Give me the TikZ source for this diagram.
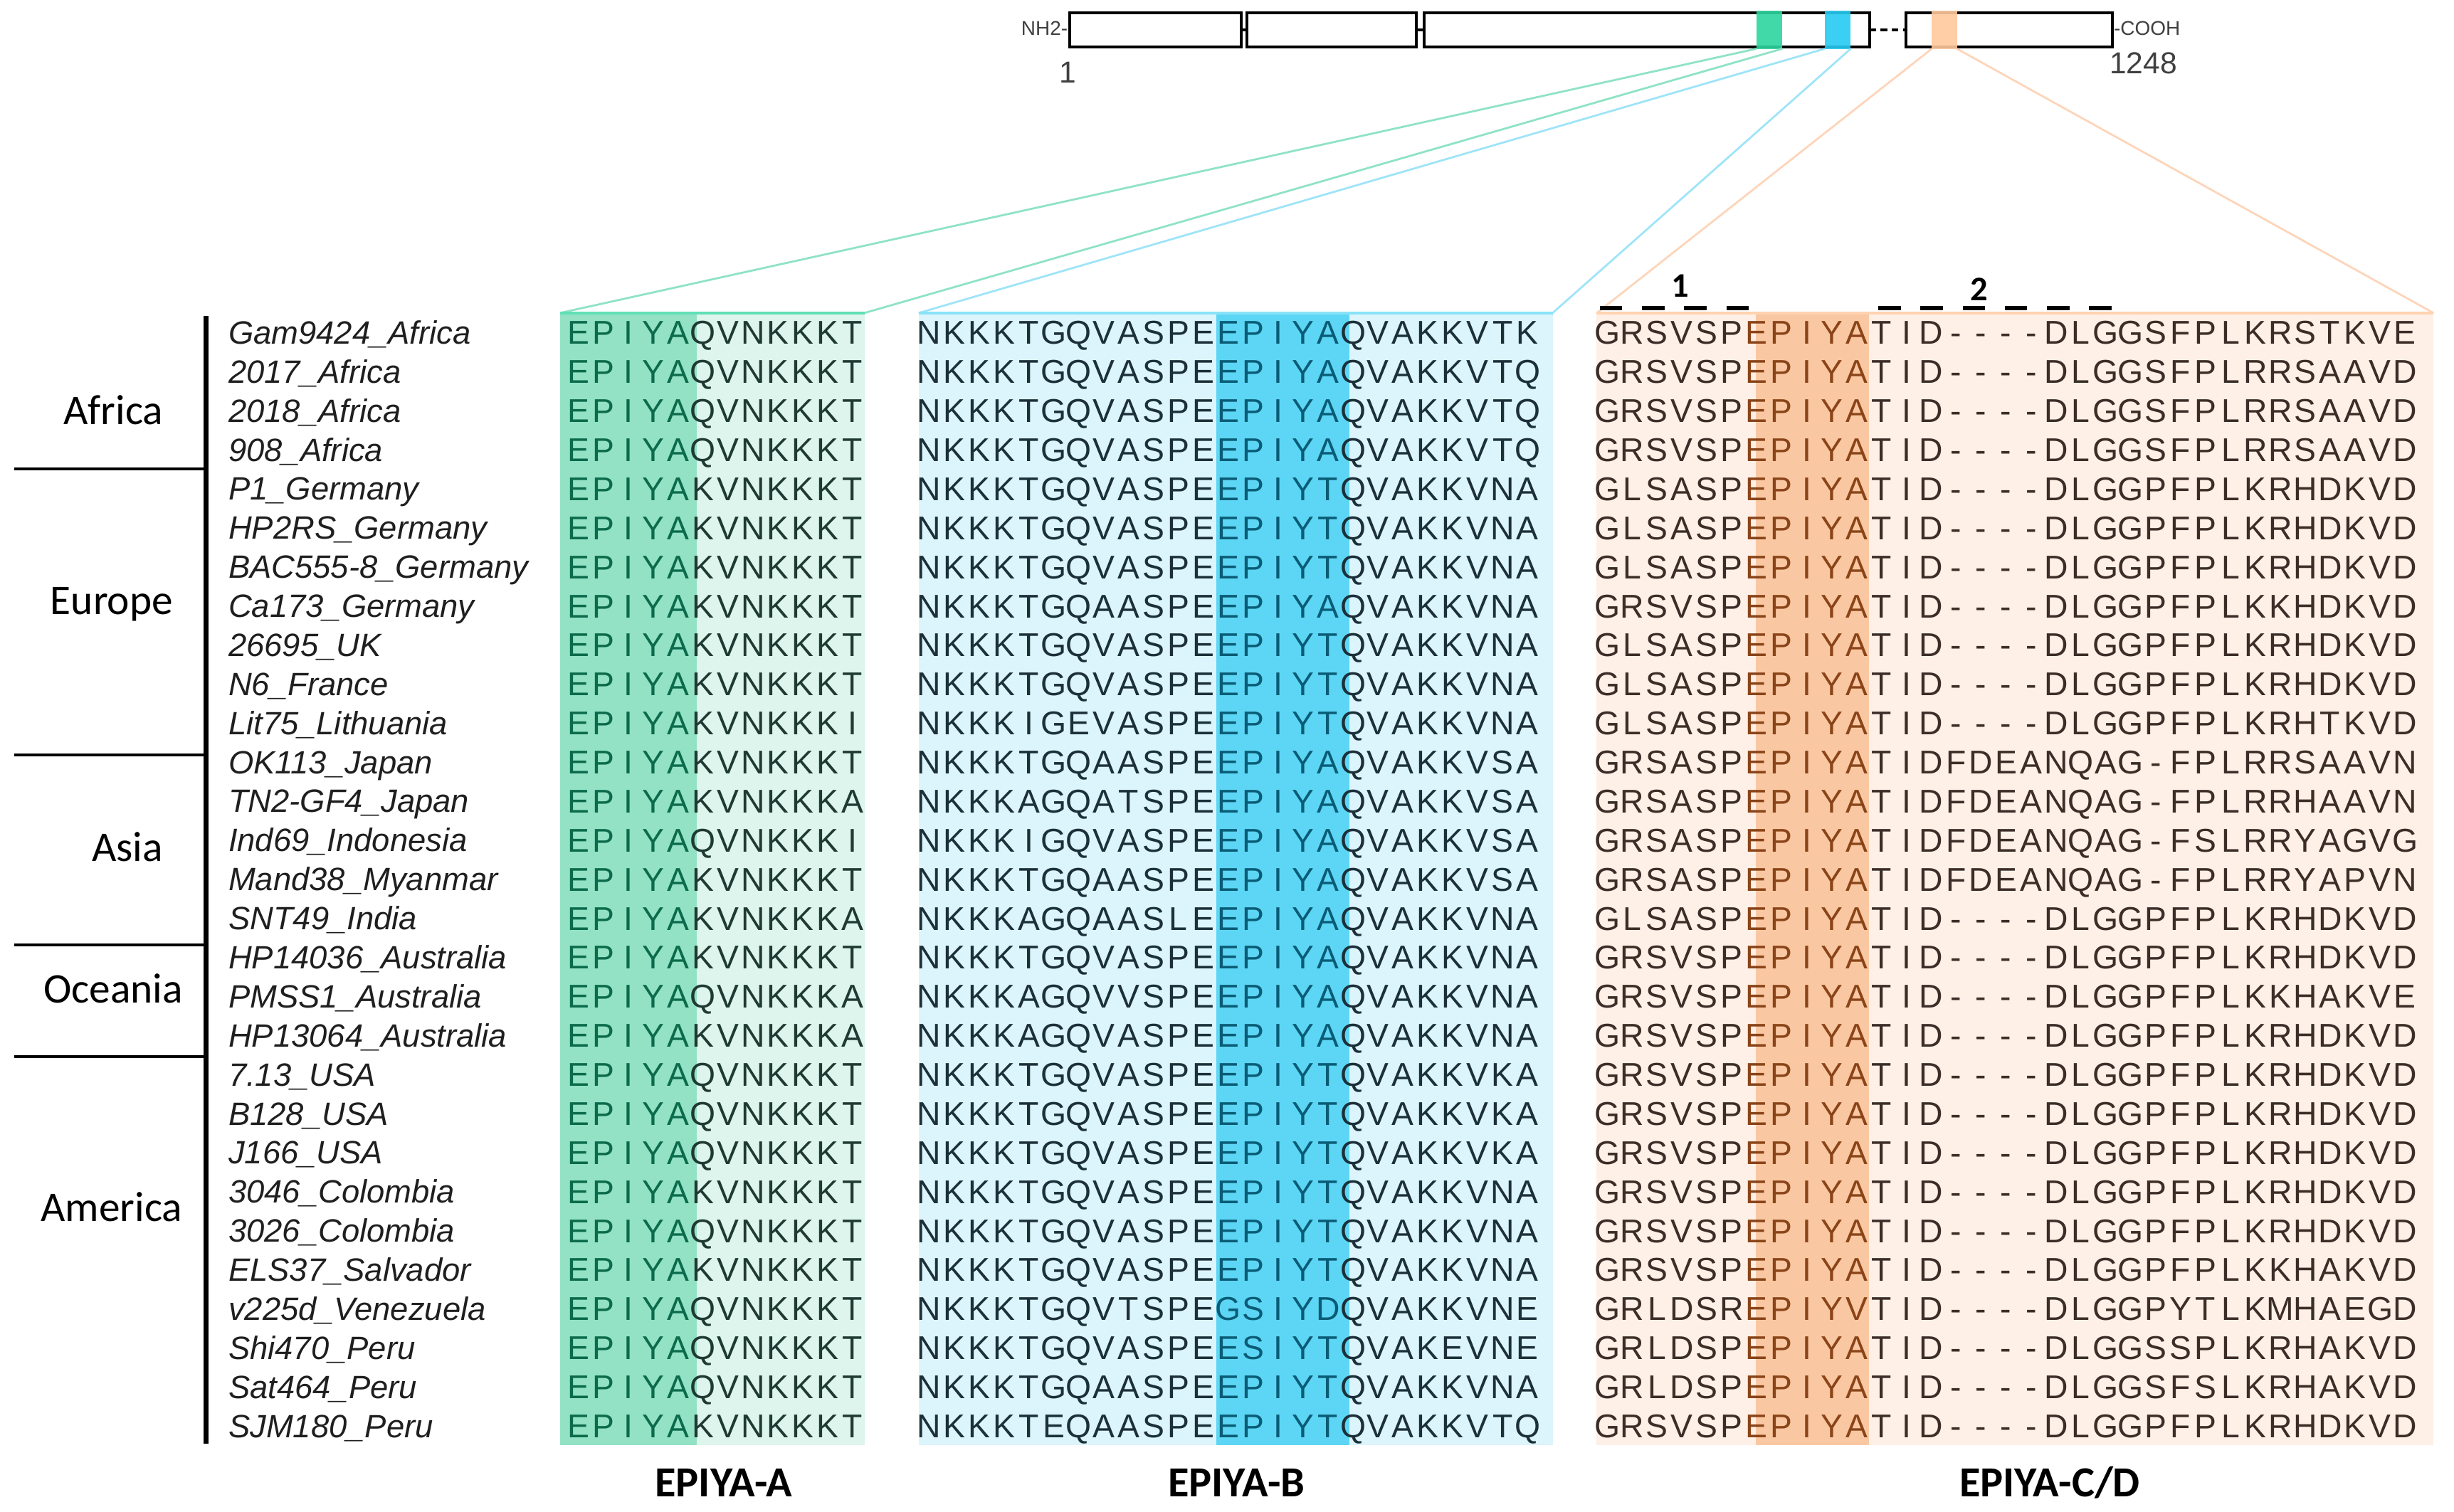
\documentclass[tikz,border=0pt]{standalone}
\usepackage{fontspec}
\setmainfont{Liberation Sans}
\newfontfamily\calib{Carlito}
\usepackage{xcolor}
\usetikzlibrary{calc}

% colours of the three EPIYA segments
\definecolor{barA}{HTML}{2DD59F}
\definecolor{barB}{HTML}{26CBF2}
\definecolor{barC}{HTML}{FFC89C}
\definecolor{fanA}{HTML}{8FE3C4}
\definecolor{fanB}{HTML}{9FE4F8}
\definecolor{fanC}{HTML}{FDD5BA}
\definecolor{Adark}{HTML}{93E2C5}
\definecolor{Alight}{HTML}{DDF5EC}
\definecolor{Bdark}{HTML}{5CD6F4}
\definecolor{Blight}{HTML}{DCF4FC}
\definecolor{Cdark}{HTML}{F9C8A2}
\definecolor{Clight}{HTML}{FEF0E6}
\definecolor{Atxt}{HTML}{0B6B4C}
\definecolor{Btxt}{HTML}{0A5C76}
\definecolor{Ctxt}{HTML}{8A4418}
\definecolor{Aseq}{HTML}{1F3A33}
\definecolor{Bseq}{HTML}{1C3039}
\definecolor{Cseq}{HTML}{3C2D28}

% one residue per fixed cell
\newlength\cw
\setlength\cw{11.27pt}
\def\seqloop#1{\ifx#1\relax\else\makebox[\cw][c]{#1}\expandafter\seqloop\fi}
\newcommand\seqtext[1]{\expandafter\seqloop#1\relax}
\newcommand\seqsize{\fontsize{14.9pt}{16pt}\selectfont}
\newcommand\namesize{\itshape\fontsize{14.6pt}{16pt}\selectfont}
\newcommand\regsize{\calib\fontsize{19.1pt}{21pt}\selectfont}
\newcommand\motsize{\calib\bfseries\fontsize{19.4pt}{21pt}\selectfont}

\begin{document}
\begin{tikzpicture}[x=0.025cm, y=-0.025cm,
    box/.style={draw=black, line width=1.3pt},
    fan/.style={line width=0.9pt},
    seqrow/.style={inner sep=0pt, anchor=base west, font=\seqsize},
    strain/.style={inner sep=0pt, anchor=base west, font=\namesize, color=black!88},
    region/.style={inner sep=0pt, anchor=base, font=\regsize},
    motif/.style={inner sep=0pt, anchor=base, font=\motsize},
    small/.style={inner sep=0pt, color=black!75}]

    \useasboundingbox (0,0) rectangle (1560,961);

    % coordinates
    \coordinate (gA1) at (1116.5,31);
    \coordinate (gA2) at (1133,31);
    \coordinate (cB1) at (1160,31);
    \coordinate (cB2) at (1176.5,31);
    \coordinate (oC1) at (1228,31);
    \coordinate (oC2) at (1244,31);
    \coordinate (A1) at (356,199);
    \coordinate (A2) at (549.5,199);
    \coordinate (B1) at (584,199);
    \coordinate (B2) at (987,199);
    \coordinate (C1) at (1015,199);
    \coordinate (C2) at (1547,199);

    % protein bar
    \draw[box] (680,8) rectangle (789,30);
    \draw[box] (792.5,8) rectangle (900.5,30);
    \draw[box] (905.5,8) rectangle (1188.5,30);
    \draw[box] (1211.5,8) rectangle (1343,30);
    \draw[line width=1.2pt] (789,19) -- (792.5,19);
    \draw[line width=1.2pt] (900.5,19) -- (905.5,19);
    \draw[line width=1.2pt, dash pattern=on 3pt off 2pt] (1188.5,19) -- (1211.5,19);
    \fill[barA, opacity=0.9] (1116.5,7) rectangle (1133,31);
    \fill[barB, opacity=0.9] (1160,7) rectangle (1176.5,31);
    \fill[barC, opacity=0.9] (1228,7) rectangle (1244,31);
    \node[small, anchor=east, font=\fontsize{9pt}{10pt}\selectfont] (nterm) at (679,18) {NH2-};
    \node[small, anchor=west, font=\fontsize{9pt}{10pt}\selectfont] (cterm) at (1343.5,18) {-COOH};
    \node[small, font=\fontsize{13.7pt}{15pt}\selectfont] (first) at (679,46) {1};
    \node[small, font=\fontsize{13.7pt}{15pt}\selectfont] (last) at (1362.5,40.4) {1248};

    % segment backgrounds
    \fill[Alight] (A1) rectangle (549.5,919);
    \fill[Adark] (A1) rectangle (443,919);
    \fill[Blight] (B1) rectangle (987,919);
    \fill[Bdark] (773,199) rectangle (858,919);
    \fill[Clight] (C1) rectangle (1547,919);
    \fill[Cdark] (1116,199) rectangle (1188,919);

    % zoom lines
    \draw[fan, fanA] (gA1) -- (A1);
    \draw[fan, fanA] (gA2) -- (A2);
    \draw[fan, fanB] (cB1) -- (B1);
    \draw[fan, fanB] (cB2) -- (B2);
    \draw[fan, fanC] (oC1) -- (C1);
    \draw[fan, fanC] (oC2) -- (C2);
    \draw[line width=1.1pt, barA!75] (A1) -- (A2);
    \draw[line width=1.1pt, barB!55] (B1) -- (B2);
    \draw[line width=1.1pt, barC!80] (C1) -- (C2);

    % dashed marks over EPIYA-C/D
    \draw[line width=2.1pt, dash pattern=on 10.17pt off 8.89pt] (1017,196) -- (1111.5,196);
    \draw[line width=2.1pt, dash pattern=on 10.17pt off 8.89pt] (1194,196) -- (1342.5,196);
    \node[inner sep=0pt, anchor=base, font=\calib\bfseries\fontsize{15.6pt}{17pt}\selectfont] (mark1) at (1068,189) {1};
    \node[inner sep=0pt, anchor=base, font=\calib\bfseries\fontsize{15.6pt}{17pt}\selectfont] (mark2) at (1258,191) {2};

    % regions
    \draw[line width=2.5pt] (131,201) -- (131,918);
    \foreach \yy in {298,480,601,672}
        \draw[line width=1.3pt] (9,\yy) -- (131,\yy);
    \node[region] (africa) at (72,269.7) {Africa};
    \node[region] (europe) at (71,390.7) {Europe};
    \node[region] (asia) at (81,547.7) {Asia};
    \node[region] (oceania) at (72,637.7) {Oceania};
    \node[region] (america) at (71,776.7) {America};

    % strains and sequences
    \foreach \strain/\mA/\rA/\pB/\mB/\rB/\pC/\mC/\rC [count=\i] in {
        Gam9424\_Africa/EPIYA/QVNKKKT/NKKKTGQVASPE/EPIYA/QVAKKVTK/GRSVSP/EPIYA/TID----DLGGSFPLKRSTKVE,
        2017\_Africa/EPIYA/QVNKKKT/NKKKTGQVASPE/EPIYA/QVAKKVTQ/GRSVSP/EPIYA/TID----DLGGSFPLRRSAAVD,
        2018\_Africa/EPIYA/QVNKKKT/NKKKTGQVASPE/EPIYA/QVAKKVTQ/GRSVSP/EPIYA/TID----DLGGSFPLRRSAAVD,
        908\_Africa/EPIYA/QVNKKKT/NKKKTGQVASPE/EPIYA/QVAKKVTQ/GRSVSP/EPIYA/TID----DLGGSFPLRRSAAVD,
        P1\_Germany/EPIYA/KVNKKKT/NKKKTGQVASPE/EPIYT/QVAKKVNA/GLSASP/EPIYA/TID----DLGGPFPLKRHDKVD,
        HP2RS\_Germany/EPIYA/KVNKKKT/NKKKTGQVASPE/EPIYT/QVAKKVNA/GLSASP/EPIYA/TID----DLGGPFPLKRHDKVD,
        BAC555-8\_Germany/EPIYA/KVNKKKT/NKKKTGQVASPE/EPIYT/QVAKKVNA/GLSASP/EPIYA/TID----DLGGPFPLKRHDKVD,
        Ca173\_Germany/EPIYA/KVNKKKT/NKKKTGQAASPE/EPIYA/QVAKKVNA/GRSVSP/EPIYA/TID----DLGGPFPLKKHDKVD,
        26695\_UK/EPIYA/KVNKKKT/NKKKTGQVASPE/EPIYT/QVAKKVNA/GLSASP/EPIYA/TID----DLGGPFPLKRHDKVD,
        N6\_France/EPIYA/KVNKKKT/NKKKTGQVASPE/EPIYT/QVAKKVNA/GLSASP/EPIYA/TID----DLGGPFPLKRHDKVD,
        Lit75\_Lithuania/EPIYA/KVNKKKI/NKKKIGEVASPE/EPIYT/QVAKKVNA/GLSASP/EPIYA/TID----DLGGPFPLKRHTKVD,
        OK113\_Japan/EPIYA/KVNKKKT/NKKKTGQAASPE/EPIYA/QVAKKVSA/GRSASP/EPIYA/TIDFDEANQAG-FPLRRSAAVN,
        TN2-GF4\_Japan/EPIYA/KVNKKKA/NKKKAGQATSPE/EPIYA/QVAKKVSA/GRSASP/EPIYA/TIDFDEANQAG-FPLRRHAAVN,
        Ind69\_Indonesia/EPIYA/QVNKKKI/NKKKIGQVASPE/EPIYA/QVAKKVSA/GRSASP/EPIYA/TIDFDEANQAG-FSLRRYAGVG,
        Mand38\_Myanmar/EPIYA/KVNKKKT/NKKKTGQAASPE/EPIYA/QVAKKVSA/GRSASP/EPIYA/TIDFDEANQAG-FPLRRYAPVN,
        SNT49\_India/EPIYA/KVNKKKA/NKKKAGQAASLE/EPIYA/QVAKKVNA/GLSASP/EPIYA/TID----DLGGPFPLKRHDKVD,
        HP14036\_Australia/EPIYA/KVNKKKT/NKKKTGQVASPE/EPIYA/QVAKKVNA/GRSVSP/EPIYA/TID----DLGGPFPLKRHDKVD,
        PMSS1\_Australia/EPIYA/QVNKKKA/NKKKAGQVVSPE/EPIYA/QVAKKVNA/GRSVSP/EPIYA/TID----DLGGPFPLKKHAKVE,
        HP13064\_Australia/EPIYA/KVNKKKA/NKKKAGQVASPE/EPIYA/QVAKKVNA/GRSVSP/EPIYA/TID----DLGGPFPLKRHDKVD,
        7.13\_USA/EPIYA/QVNKKKT/NKKKTGQVASPE/EPIYT/QVAKKVKA/GRSVSP/EPIYA/TID----DLGGPFPLKRHDKVD,
        B128\_USA/EPIYA/QVNKKKT/NKKKTGQVASPE/EPIYT/QVAKKVKA/GRSVSP/EPIYA/TID----DLGGPFPLKRHDKVD,
        J166\_USA/EPIYA/QVNKKKT/NKKKTGQVASPE/EPIYT/QVAKKVKA/GRSVSP/EPIYA/TID----DLGGPFPLKRHDKVD,
        3046\_Colombia/EPIYA/KVNKKKT/NKKKTGQVASPE/EPIYT/QVAKKVNA/GRSVSP/EPIYA/TID----DLGGPFPLKRHDKVD,
        3026\_Colombia/EPIYA/QVNKKKT/NKKKTGQVASPE/EPIYT/QVAKKVNA/GRSVSP/EPIYA/TID----DLGGPFPLKRHDKVD,
        ELS37\_Salvador/EPIYA/KVNKKKT/NKKKTGQVASPE/EPIYT/QVAKKVNA/GRSVSP/EPIYA/TID----DLGGPFPLKKHAKVD,
        v225d\_Venezuela/EPIYA/QVNKKKT/NKKKTGQVTSPE/GSIYD/QVAKKVNE/GRLDSR/EPIYV/TID----DLGGPYTLKMHAEGD,
        Shi470\_Peru/EPIYA/QVNKKKT/NKKKTGQVASPE/ESIYT/QVAKEVNE/GRLDSP/EPIYA/TID----DLGGSSPLKRHAKVD,
        Sat464\_Peru/EPIYA/QVNKKKT/NKKKTGQAASPE/EPIYT/QVAKKVNA/GRLDSP/EPIYA/TID----DLGGSFSLKRHAKVD,
        SJM180\_Peru/EPIYA/KVNKKKT/NKKKTEQAASPE/EPIYT/QVAKKVTQ/GRSVSP/EPIYA/TID----DLGGPFPLKRHDKVD}{
        \pgfmathsetmacro\yy{211.4+24.83*(\i-1)}
        \node[strain] (s\i) at (145,\yy+7.3) {\strain};
        \node[seqrow] (a\i) at (359.5,\yy+7.5) {\color{Atxt}\seqtext\mA\color{Aseq}\seqtext\rA};
        \node[seqrow] (b\i) at (582.5,\yy+7.5) {\color{Bseq}\seqtext\pB\color{Btxt}\seqtext\mB\color{Bseq}\seqtext\rB};
        \node[seqrow] (c\i) at (1013.5,\yy+7.5) {\color{Cseq}\seqtext\pC\color{Ctxt}\seqtext\mC\color{Cseq}\seqtext\rC};
    }

    % segment names
    \node[motif] (epiyaA) at (460,951.8) {EPIYA-A};
    \node[motif] (epiyaB) at (786,951.8) {EPIYA-B};
    \node[motif] (epiyaC) at (1303,951.8) {EPIYA-C/D};
\end{tikzpicture}
\end{document}
